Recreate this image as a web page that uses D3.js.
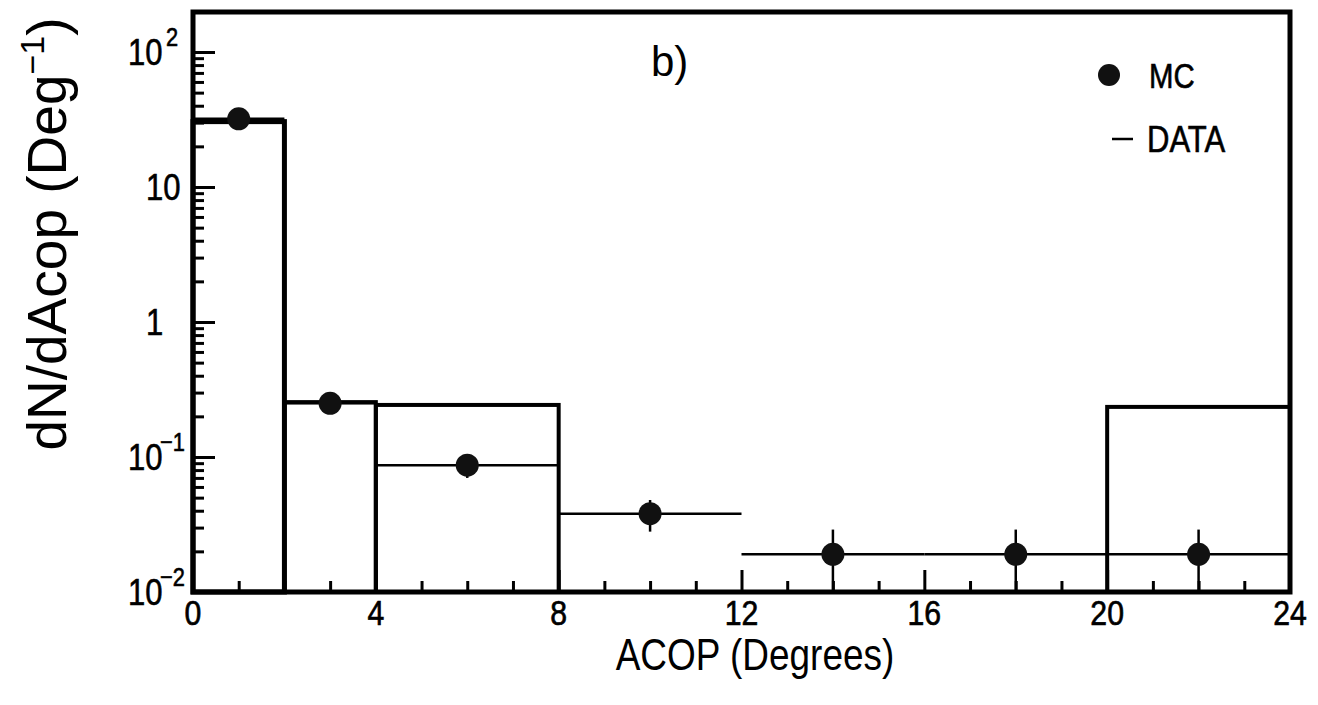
<!DOCTYPE html>
<html>
<head>
<meta charset="utf-8">
<script src="https://cdn.jsdelivr.net/npm/d3@7"></script>
<style>
  html, body { margin: 0; padding: 0; background: #fff; }
  svg { display: block; }
</style>
</head>
<body>
<svg id="chart" width="1318" height="705"></svg>
<script>
// ---------------- data ----------------
const dataBinLow  = [0, 2, 4, 8, 12, 16, 20];
const dataBinHigh = [2, 4, 8, 12, 16, 20, 24];
const dataValues  = [30.5, 0.255, 0.243, 0, 0, 0, 0.235];

const mcX      = [1, 3, 6, 10, 14, 18, 22];
const mcLow    = [0, 2, 4, 8, 12, 16, 20];
const mcHigh   = [2, 4, 8, 12, 16, 20, 24];
const mcValues = [32, 0.25, 0.087, 0.038, 0.019, 0.019, 0.019];
const mcErrors = [2, 0.02, 0.017, 0.01, 0.01, 0.01, 0.01];

const xMajorTicks = [0, 4, 8, 12, 16, 20, 24];
const xMinorTicks = [1, 2, 3, 5, 6, 7, 9, 10, 11, 13, 14, 15, 17, 18, 19, 21, 22, 23];
const yMajorTicks = [0.01, 0.1, 1, 10, 100];
const yTickBase   = ["10", "10", "1", "10", "10"];
const yTickExp    = ["\u22122", "\u22121", "", "", "2"];

// ---------------- layout ----------------
const svg = d3.select("#chart");
const L = 193, R = 1290, T = 12, B = 592;
const x = d3.scaleLinear().domain([0, 24]).range([L, R]);
const yTop = Math.pow(10, -2 + (B - T) / 135);
const y = d3.scaleLog().domain([0.01, yTop]).range([B, T]);
const yc = v => y(Math.max(v, 0.01));
const FONT = "'Liberation Sans', Arial, Helvetica, sans-serif";
const SX = 0.84; // horizontal condensation of the PAW-like font

const yMinorTicks = [];
[0.01, 0.1, 1, 10, 100].forEach(d => {
  for (let k = 2; k <= 9; k++) { const v = d * k; if (v < yTop) yMinorTicks.push(v); }
});

function ctext(parent, tx, ty, size, str, anchor, heavy) {
  const t = parent.append("text")
    .attr("transform", `translate(${tx},${ty}) scale(${SX},1)`)
    .attr("text-anchor", anchor || "start")
    .attr("font-family", FONT).attr("font-size", size).attr("fill", "#000")
    .text(str);
  if (heavy) t.attr("stroke", "#000").attr("stroke-width", heavy);
  return t;
}

// ---------------- DATA histogram ----------------
const bins = dataValues.map((v, i) => ({ lo: dataBinLow[i], hi: dataBinHigh[i], v })).filter(d => d.v > 0);
svg.append("g").selectAll("rect").data(bins).join("rect")
  .attr("x", d => x(d.lo)).attr("width", d => x(d.hi) - x(d.lo))
  .attr("y", d => y(d.v)).attr("height", d => B - y(d.v))
  .attr("fill", "none").attr("stroke", "#000")
  .attr("stroke-width", (d, i) => i === 0 ? 5 : 4);

// ---------------- MC points ----------------
const mc = mcX.map((xv, i) => ({ x: xv, lo: mcLow[i], hi: mcHigh[i], v: mcValues[i], e: mcErrors[i] }));
const gmc = svg.append("g");
gmc.selectAll("line.h").data(mc).join("line").attr("class", "h")
  .attr("x1", d => x(d.lo)).attr("x2", d => x(d.hi))
  .attr("y1", d => y(d.v)).attr("y2", d => y(d.v))
  .attr("stroke", "#000").attr("stroke-width", 2.5);
gmc.selectAll("line.v").data(mc).join("line").attr("class", "v")
  .attr("x1", d => x(d.x)).attr("x2", d => x(d.x))
  .attr("y1", d => yc(d.v + d.e)).attr("y2", d => yc(d.v - d.e))
  .attr("stroke", "#000").attr("stroke-width", 2.5);
gmc.selectAll("circle").data(mc).join("circle")
  .attr("cx", d => x(d.x)).attr("cy", d => y(d.v))
  .attr("r", 11.5).attr("fill", "#111");

// ---------------- axes ----------------
const gx = svg.append("g").attr("transform", `translate(0,${B})`);
gx.call(d3.axisBottom(x).tickValues(xMajorTicks).tickSize(-22).tickFormat(""));
gx.call(g => g.select(".domain").remove());
const gx2 = svg.append("g").attr("transform", `translate(0,${B})`);
gx2.call(d3.axisBottom(x).tickValues(xMinorTicks).tickSize(-11).tickFormat(""));
gx2.call(g => g.select(".domain").remove());

const gy = svg.append("g").attr("transform", `translate(${L},0)`);
gy.call(d3.axisLeft(y).tickValues(yMajorTicks).tickSize(-22).tickFormat(""));
gy.call(g => g.select(".domain").remove());
const gy2 = svg.append("g").attr("transform", `translate(${L},0)`);
gy2.call(d3.axisLeft(y).tickValues(yMinorTicks).tickSize(-11).tickFormat(""));
gy2.call(g => g.select(".domain").remove());
svg.selectAll(".tick line").attr("stroke", "#000").attr("stroke-width", 3);

// frame
svg.append("rect").attr("x", L).attr("y", T).attr("width", R - L).attr("height", B - T)
  .attr("fill", "none").attr("stroke", "#000").attr("stroke-width", 5);

// x tick labels
const xl = svg.append("g");
xMajorTicks.forEach(d => ctext(xl, x(d), B + 33, 36, String(d), "middle", 0.7));

// y tick labels (base + exponent in one text element)
const yl = svg.append("g");
yMajorTicks.forEach((v, i) => {
  const ty = y(v);
  const t = yl.append("text")
    .attr("transform", `translate(${yTickExp[i] ? 128 : 146},${ty + 13}) scale(${SX},1)`)
    .attr("font-family", FONT).attr("font-size", 37).attr("fill", "#000")
    .attr("stroke", "#000").attr("stroke-width", 0.6);
  t.append("tspan").text(yTickBase[i]);
  if (yTickExp[i]) {
    const neg = yTickExp[i].startsWith("\u2212");
    t.append("tspan").attr("dx", neg ? -3 : 4).attr("dy", -19)
      .attr("font-size", 26).text(yTickExp[i]);
  }
});

// axis titles
ctext(svg, 755, 670, 44, "ACOP (Degrees)", "middle");

const ylab = svg.append("text")
  .attr("transform", "translate(66,234) rotate(-90)")
  .attr("text-anchor", "middle")
  .attr("font-family", FONT)
  .attr("font-size", 55).attr("fill", "#000");
ylab.append("tspan").text("dN/dAcop (Deg");
ylab.append("tspan").attr("dy", -22).attr("font-size", 34).text("\u22121");
ylab.append("tspan").attr("dy", 22).text(")");

// panel label
svg.append("text").attr("x", 651).attr("y", 76)
  .attr("font-family", FONT)
  .attr("font-size", 42).attr("fill", "#000").text("b)");

// legend
const lg = svg.append("g");
lg.append("circle").attr("cx", 1109).attr("cy", 75).attr("r", 11).attr("fill", "#111");
ctext(lg, 1149, 88, 35, "MC", "start", 0.6);
lg.append("line").attr("x1", 1112).attr("x2", 1133).attr("y1", 139).attr("y2", 139)
  .attr("stroke", "#000").attr("stroke-width", 2.5);
ctext(lg, 1147, 152, 37, "DATA", "start", 0.6);
</script>
</body>
</html>
